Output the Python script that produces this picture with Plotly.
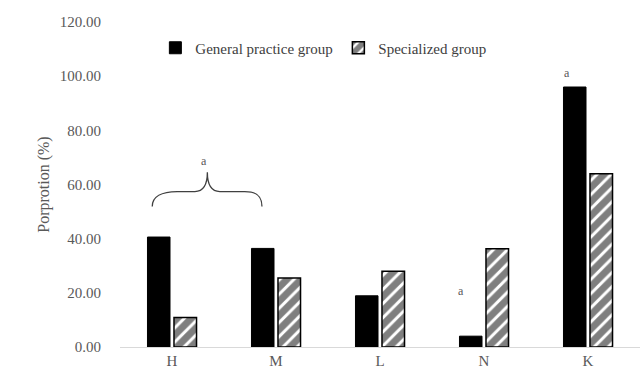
import plotly.graph_objects as go

# Stage categories and the share of each group (%)
categories = ["H", "M", "L", "N", "K"]
general_practice = [40.6, 36.4, 18.9, 4.0, 96.0]
specialized = [10.9, 25.5, 28.0, 36.3, 64.0]
y_ticks = [0, 20, 40, 60, 80, 100, 120]

x_pos = list(range(len(categories)))
FONT = "Times New Roman, Liberation Serif, serif"
TEXT = "#595959"

fig = go.Figure()
fig.add_trace(go.Bar(
    x=x_pos, y=general_practice, name="General practice group",
    marker=dict(color="black", line=dict(color="black", width=1)),
))
fig.add_trace(go.Bar(
    x=x_pos, y=specialized, name="Specialized group",
    marker=dict(
        color="white",
        line=dict(color="black", width=1.5),
        pattern=dict(shape="/", fgcolor="black", bgcolor="white",
                     size=10, solidity=0.7, fillmode="overlay"),
    ),
))

# Significance marks
fig.add_annotation(x=0.31, y=68.5, text="a", showarrow=False,
                   font=dict(family=FONT, size=12, color=TEXT))
fig.add_annotation(x=2.78, y=20.7, text="a", showarrow=False,
                   font=dict(family=FONT, size=12, color=TEXT))
fig.add_annotation(x=3.8, y=101.0, text="a", showarrow=False,
                   font=dict(family=FONT, size=12, color=TEXT))

# Curly brace spanning H and M
brace = ("M -0.19,51.9 C -0.19,55.5 -0.1,57.4 0.05,57.4 "
         "L 0.22,57.4 C 0.31,57.4 0.34,60 0.34,64.5 "
         "C 0.34,60 0.37,57.4 0.46,57.4 "
         "L 0.7,57.4 C 0.82,57.4 0.865,55.5 0.865,51.9")
fig.add_shape(type="path", path=brace, xref="x", yref="y",
              line=dict(color="#404040", width=1.3))

fig.update_layout(
    width=641, height=373,
    margin=dict(l=120, r=1, t=22, b=26),
    paper_bgcolor="white", plot_bgcolor="white",
    barmode="group", bargap=0.49, bargroupgap=0.15,
    font=dict(family=FONT, size=15, color=TEXT),
    showlegend=True,
    legend=dict(orientation="h", x=0.068, y=0.92, xanchor="left",
                yanchor="middle", entrywidth=138, entrywidthmode="pixels",
                font=dict(family=FONT, size=15, color="#404040"),
                bgcolor="rgba(0,0,0,0)"),
    xaxis=dict(
        tickmode="array", tickvals=x_pos, ticktext=categories,
        range=[-0.5, len(categories) - 0.5],
        showline=True, linecolor="#d9d9d9", linewidth=1,
        ticks="", showgrid=False, zeroline=False,
        tickfont=dict(family=FONT, size=15, color=TEXT),
    ),
    yaxis=dict(
        range=[0, 120], tickmode="array", tickvals=y_ticks,
        tickformat=".2f", showgrid=False, zeroline=False, showline=False,
        ticks="", ticklabelstandoff=18,
        tickfont=dict(family=FONT, size=15, color=TEXT),
        title=dict(text="Porprotion (%)", standoff=6,
                   font=dict(family=FONT, size=16, color=TEXT)),
    ),
)

fig.write_html("out.html")
